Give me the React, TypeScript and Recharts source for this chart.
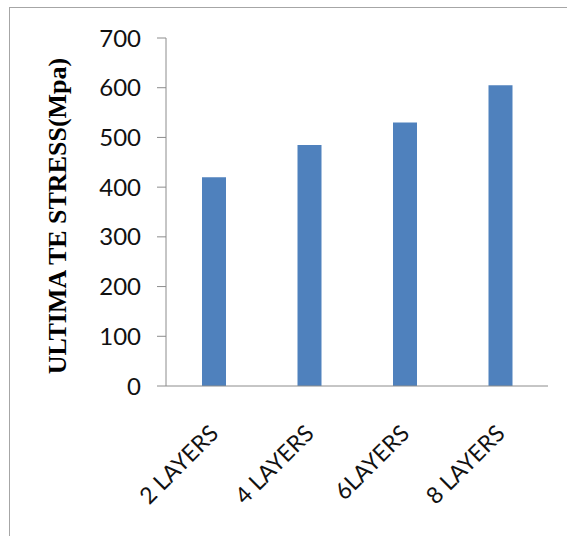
import { BarChart, Bar, XAxis, YAxis } from "recharts";

const layers = ["2 LAYERS", "4 LAYERS", "6LAYERS", "8 LAYERS"];
const stress = [420, 485, 530, 605];
const yTicks = [0, 100, 200, 300, 400, 500, 600, 700];

const data = layers.map((name, i) => ({ name, stress: stress[i] }));

const AXIS_GRAY = "#8c8c8c";
const TICK_FONT = "Lato, 'Open Sans', sans-serif";

const LayerTick = ({ x, y, payload }: any) => {
  const ax = x + 6;
  const ay = y + 41;
  return (
    <text
      x={ax}
      y={ay}
      textAnchor="end"
      fontFamily={TICK_FONT}
      fontSize={23}
      fill="#111"
      transform={`rotate(-45, ${ax}, ${ay})`}
    >
      {payload.value}
    </text>
  );
};

const StressLabel = () => (
  <text
    x={66}
    y={216}
    textAnchor="middle"
    fontFamily="'Liberation Serif', 'Times New Roman', serif"
    fontWeight="bold"
    fontSize={26}
    fill="#000"
    transform="rotate(-90, 66, 216)"
  >
    ULTIMA TE STRESS(Mpa)
  </text>
);

export default function App() {
  return (
    <div style={{ position: "absolute", left: 0, top: 0, width: 567, height: 536, overflow: "hidden", background: "#fff" }}>
      <div
        style={{
          position: "absolute",
          left: 9,
          top: 7,
          width: 620,
          height: 600,
          border: "1px solid #a6a6a6",
        }}
      />
      <div style={{ position: "absolute", left: 0, top: 0 }}>
        <BarChart width={567} height={536} data={data} margin={{ top: 38, right: 19, bottom: 0, left: 0 }}>
          <XAxis
            dataKey="name"
            height={150}
            axisLine={{ stroke: AXIS_GRAY }}
            tickLine={false}
            interval={0}
            tick={<LayerTick />}
          />
          <YAxis
            width={166}
            domain={[0, 700]}
            ticks={yTicks}
            interval={0}
            axisLine={{ stroke: AXIS_GRAY }}
            tickLine={{ stroke: AXIS_GRAY }}
            tickSize={9}
            tickMargin={16}
            tick={{ fontFamily: TICK_FONT, fontSize: 24, fill: "#111" }}
            label={<StressLabel />}
          />
          <Bar dataKey="stress" fill="#4f81bd" barSize={24} isAnimationActive={false} />
        </BarChart>
      </div>
    </div>
  );
}
